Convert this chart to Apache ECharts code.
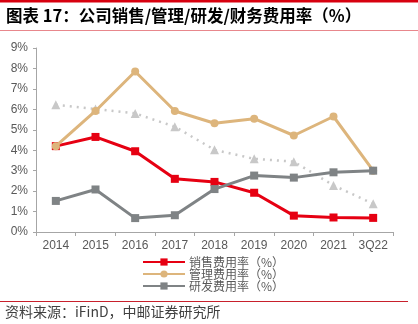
<!DOCTYPE html>
<html>
<head>
<meta charset="utf-8">
<script src="https://cdn.jsdelivr.net/npm/echarts@6/dist/echarts.min.js"></script>
<style>
html,body{margin:0;padding:0;background:#fff;}
#c{width:418px;height:324px;}
</style>
</head>
<body>
<div id="c"></div>
<script>
const categories = ['2014','2015','2016','2017','2018','2019','2020','2021','3Q22'];
const salesRate = [4.2, 4.65, 3.95, 2.6, 2.45, 1.92, 0.8, 0.71, 0.69];
const adminRate = [4.2, 5.92, 7.85, 5.92, 5.32, 5.54, 4.72, 5.65, 3.0];
const rdRate = [1.52, 2.08, 0.68, 0.82, 2.1, 2.76, 2.66, 2.92, 3.0];
const financeRate = [6.22, 6.02, 5.8, 5.15, 4.02, 3.58, 3.44, 2.28, 1.38];
const yTicks = [0, 1, 2, 3, 4, 5, 6, 7, 8, 9];
const seriesNames = ['销售费用率（%）', '管理费用率（%）', '研发费用率（%）', '财务费用率（%）'];
const titleText = '图表 17：公司销售/管理/研发/财务费用率（%）';
const sourceText = '资料来源：iFinD，中邮证券研究所';

const chart = echarts.init(document.getElementById('c'), null, {renderer: 'canvas'});
const fontCJK = '"Noto Sans CJK SC", "Noto Sans", sans-serif';
const axisFont = 'Liberation Sans, Arial, sans-serif';

chart.setOption({
  animation: false,
  backgroundColor: '#fff',
  grid: {left: 36, right: 25, top: 48, bottom: 92, containLabel: false},
  xAxis: {
    type: 'category',
    data: categories,
    boundaryGap: true,
    axisLine: {lineStyle: {color: '#A6A6A6', width: 1}},
    axisTick: {show: true, length: 4, lineStyle: {color: '#A6A6A6'}},
    axisLabel: {color: '#595959', fontSize: 12, fontFamily: axisFont, margin: 8},
    splitLine: {show: false}
  },
  yAxis: {
    type: 'value',
    min: yTicks[0],
    max: yTicks[yTicks.length - 1],
    interval: 1,
    axisLine: {show: true, lineStyle: {color: '#A6A6A6', width: 1}},
    axisTick: {show: true, length: 3, lineStyle: {color: '#A6A6A6'}},
    axisLabel: {color: '#595959', fontSize: 12, fontFamily: axisFont, margin: 8, formatter: v => v + '%'},
    splitLine: {show: false}
  },
  legend: {
    orient: 'vertical',
    left: 142,
    top: 256,
    itemWidth: 42,
    itemHeight: 9,
    itemGap: 0,
    padding: 0,
    data: seriesNames.slice(0, 3),
    textStyle: {color: '#595959', fontSize: 12, fontFamily: fontCJK, lineHeight: 12, padding: [0, 0, 0, -1]}
  },
  series: [
    {
      name: seriesNames[3], type: 'line', data: financeRate, z: 1,
      symbol: 'triangle', symbolSize: 9,
      lineStyle: {color: '#C8C8C8', width: 2.5, type: [2, 5]},
      itemStyle: {color: '#C8C8C8'}
    },
    {
      name: seriesNames[0], type: 'line', data: salesRate, z: 2,
      symbol: 'rect', symbolSize: 8,
      lineStyle: {color: '#E60012', width: 3},
      itemStyle: {color: '#E60012'}
    },
    {
      name: seriesNames[1], type: 'line', data: adminRate, z: 3,
      symbol: 'circle', symbolSize: 8,
      lineStyle: {color: '#DDB57C', width: 3},
      itemStyle: {color: '#DDB57C'}
    },
    {
      name: seriesNames[2], type: 'line', data: rdRate, z: 4,
      symbol: 'rect', symbolSize: 8,
      lineStyle: {color: '#7F8385', width: 3},
      itemStyle: {color: '#7F8385'}
    }
  ],
  graphic: [
    {type: 'rect', left: 0, top: 0, shape: {width: 418, height: 2.5}, style: {fill: '#D7000F'}},
    {type: 'text', left: 6, top: 7, style: {text: titleText, fill: '#000', font: 'bold 16.5px ' + fontCJK}},
    {type: 'rect', left: 0, top: 30, shape: {width: 418, height: 1}, style: {fill: '#E8878C'}},
    {type: 'rect', left: 0, top: 301, shape: {width: 408, height: 1}, style: {fill: '#C8202C'}},
    {type: 'text', left: 5, top: 305, style: {text: sourceText, fill: '#404040', font: '14px ' + fontCJK}}
  ]
});
</script>
</body>
</html>
